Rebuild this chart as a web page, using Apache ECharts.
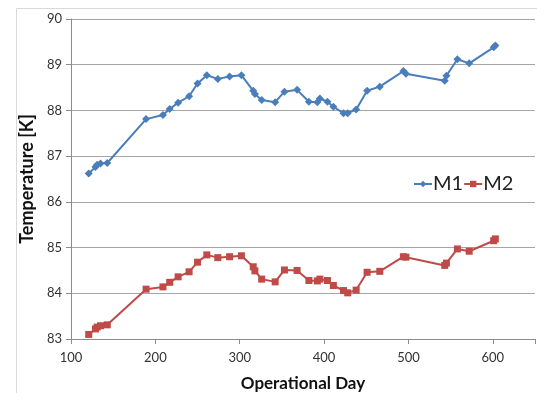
<!DOCTYPE html>
<html>
<head>
<meta charset="utf-8">
<script src="https://cdn.jsdelivr.net/npm/echarts@6/dist/echarts.min.js"></script>
<style>
  html, body { margin: 0; padding: 0; background: #fff; }
  #chart { width: 537px; height: 393px; }
</style>
</head>
<body>
<div id="chart"></div>
<script>
// Operational days at which both sensors were read
const days = [121, 129, 131, 135, 143, 189, 209, 217, 227, 240, 250, 261, 274, 288, 302,
  316, 318, 326, 342, 353, 368, 382, 392, 395, 404, 411, 423, 428, 438, 451, 466,
  494, 497, 543, 545, 558, 572, 601, 603];

// Sensor M1 temperature [K]
const m1 = [86.62, 86.76, 86.81, 86.84, 86.85, 87.81, 87.90, 88.03, 88.17, 88.31, 88.59,
  88.77, 88.69, 88.74, 88.77, 88.43, 88.36, 88.23, 88.18, 88.41, 88.45, 88.19, 88.18,
  88.26, 88.19, 88.08, 87.94, 87.94, 88.02, 88.43, 88.52, 88.86, 88.80, 88.65, 88.76,
  89.12, 89.03, 89.38, 89.42];

// Sensor M2 temperature [K]
const m2 = [83.10, 83.22, 83.26, 83.29, 83.31, 84.09, 84.14, 84.24, 84.36, 84.47, 84.68,
  84.84, 84.78, 84.80, 84.82, 84.58, 84.49, 84.31, 84.25, 84.51, 84.50, 84.28, 84.27,
  84.31, 84.28, 84.17, 84.06, 84.01, 84.07, 84.46, 84.48, 84.80, 84.79, 84.61, 84.66,
  84.97, 84.92, 85.15, 85.19];

const seriesNames = ['M1', 'M2'];
const xTicks = { min: 100, max: 650, step: 100 };
const yTicks = { min: 83, max: 90, step: 1 };

const pairs = (xs, ys) => xs.map((x, i) => [x, ys[i]]);

const font = 'Lato, "Open Sans", sans-serif';
const chart = echarts.init(document.getElementById('chart'), null, { renderer: 'canvas' });

chart.setOption({
  animation: false,
  backgroundColor: '#ffffff',
  graphic: [{
    type: 'rect',
    shape: { x: 16.5, y: 8.5, width: 600, height: 460 },
    style: { fill: 'none', stroke: '#d9d9d9', lineWidth: 1 },
    z: -1
  }],
  grid: { left: 71, top: 19, right: 2, bottom: 54, outerBoundsMode: 'none', containLabel: false },
  legend: {
    data: seriesNames,
    left: 408,
    top: 169,
    itemWidth: 18,
    itemHeight: 8,
    itemGap: 0,
    textStyle: { fontFamily: font, fontSize: 20, color: '#222', padding: [0, 0, 0, -4] }
  },
  xAxis: {
    type: 'value',
    min: xTicks.min,
    max: xTicks.max,
    interval: xTicks.step,
    name: 'Operational Day',
    nameLocation: 'middle',
    nameGap: 36,
    nameTextStyle: { fontFamily: font, fontSize: 17, fontWeight: 'bold', color: '#111' },
    axisLine: { show: true, lineStyle: { color: '#8c8c8c', width: 1 } },
    axisTick: { show: true, length: 5, lineStyle: { color: '#8c8c8c' } },
    axisLabel: {
      fontFamily: font, fontSize: 13, color: '#333', margin: 12,
      formatter: v => (v > 600 ? '' : String(v))
    },
    splitLine: { show: false }
  },
  yAxis: {
    type: 'value',
    min: yTicks.min,
    max: yTicks.max,
    interval: yTicks.step,
    name: 'Temperature [K]',
    nameLocation: 'middle',
    nameGap: 29,
    nameTextStyle: { fontFamily: font, fontSize: 18, fontWeight: 'bold', color: '#111' },
    axisLine: { show: true, lineStyle: { color: '#8c8c8c', width: 1 } },
    axisTick: { show: true, length: 5, lineStyle: { color: '#8c8c8c' } },
    axisLabel: { fontFamily: font, fontSize: 13, color: '#333', margin: 9 },
    splitLine: { show: true, lineStyle: { color: '#a6a6a6', width: 1 } }
  },
  series: [
    {
      name: seriesNames[0],
      type: 'line',
      data: pairs(days, m1),
      symbol: 'diamond',
      symbolSize: 8,
      showAllSymbol: true,
      lineStyle: { color: '#4a7ebb', width: 2 },
      itemStyle: { color: '#4a7ebb' }
    },
    {
      name: seriesNames[1],
      type: 'line',
      data: pairs(days, m2),
      symbol: 'rect',
      symbolSize: 7,
      showAllSymbol: true,
      lineStyle: { color: '#be4b48', width: 2 },
      itemStyle: { color: '#be4b48' }
    }
  ]
});
</script>
</body>
</html>
